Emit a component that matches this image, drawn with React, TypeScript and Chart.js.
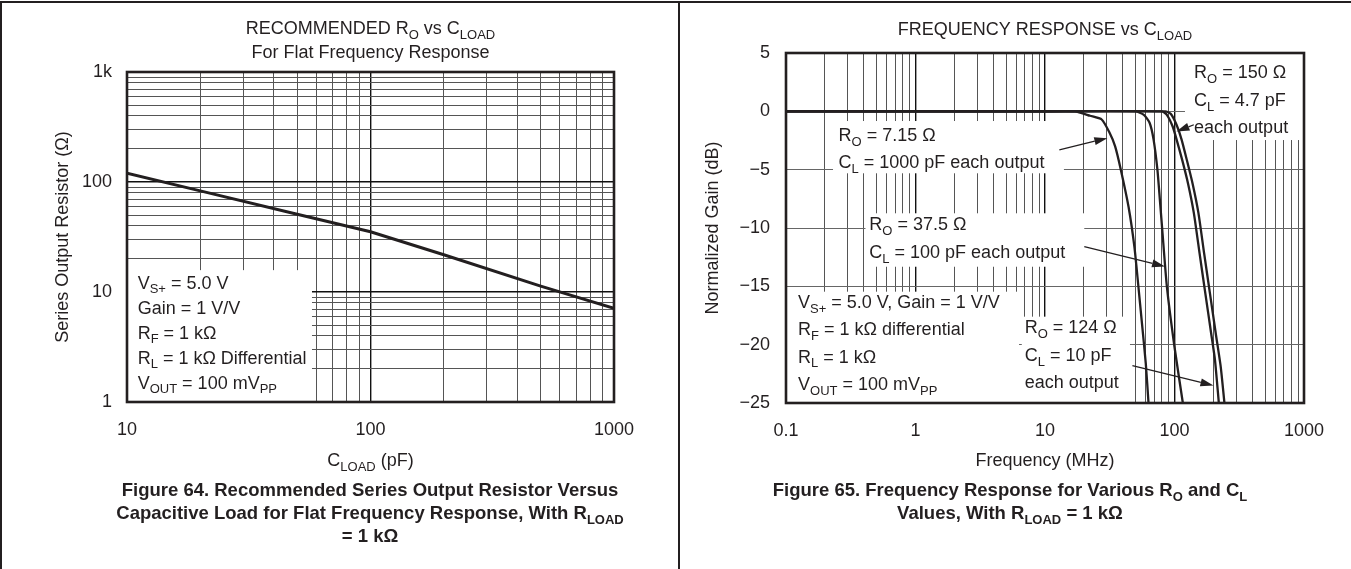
import React, { useEffect, useRef } from 'react';
import { Chart, registerables } from 'chart.js';

Chart.register(...registerables);

const FONT = "'Liberation Sans', Arial, Helvetica, sans-serif";
const INK = '#231f20';

// ---------- Figure 64 data ----------
const cloadPF = [10, 20, 50, 100, 200, 500, 1000];
const seriesROhm = [120, 83, 51, 35.3, 21.8, 11.3, 7.1];
const leftXTicks = [10, 100, 1000];
const leftXTickLabels = ['10', '100', '1000'];
const leftYTicks = [1, 10, 100, 1000];
const leftYTickLabels = ['1', '10', '100', '1k'];

// ---------- Figure 65 data ----------
const freqA = [0.1, 1, 10, 17, 22.3, 27.4, 31.4, 34.8, 38.5, 44.2, 49, 52.4, 56.1, 60, 63];
const gainA = [0, 0, 0, 0, -0.38, -0.7, -1.8, -3.0, -5.0, -8.2, -11.6, -14.8, -18.2, -21.6, -25];
const freqB = [0.1, 1, 10, 50, 58, 64.3, 68.9, 73.8, 77, 80.5, 87.3, 100, 116];
const gainB = [0, 0, 0, 0, -0.3, -1.0, -2.4, -5.0, -7.5, -10.2, -15, -20.2, -25];
const freqC = [0.1, 1, 10, 80, 87.3, 96.8, 103.7, 114.9, 127.3, 141, 156.3, 173, 191.7, 205.3, 220];
const gainC = [0, 0, 0, 0, -0.3, -1.3, -2.4, -4.2, -6.2, -8.7, -12.2, -15.6, -19.0, -21.3, -25];
const freqD = [0.1, 1, 10, 85, 93.5, 103.7, 113.3, 124.7, 138, 153, 169.5, 187.8, 208, 227.5, 243];
const gainD = [0, 0, 0, 0, -0.2, -1.15, -2.4, -4.2, -6.2, -8.7, -12.2, -15.6, -19.0, -21.9, -25];
const rightXTicks = [0.1, 1, 10, 100, 1000];
const rightXTickLabels = ['0.1', '1', '10', '100', '1000'];
const rightYTicks = [5, 0, -5, -10, -15, -20, -25];
const rightYTickLabels = ['5', '0', '\u22125', '\u221210', '\u221215', '\u221220', '\u221225'];

// ---------- helpers ----------
function logGrid(min: number, max: number): number[] {
  const out: number[] = [];
  const e0 = Math.round(Math.log10(min));
  const e1 = Math.round(Math.log10(max));
  for (let e = e0; e < e1; e++) {
    for (let m = 1; m < 10; m++) out.push(parseFloat((m * Math.pow(10, e)).toPrecision(6)));
  }
  out.push(max);
  return out;
}
const isDecade = (v: number) => Math.abs(Math.log10(v) - Math.round(Math.log10(v))) < 1e-6;
function labelFor(v: number, ticks: number[], labels: string[]): string {
  for (let i = 0; i < ticks.length; i++) {
    if (Math.abs(ticks[i] - v) <= Math.abs(ticks[i]) * 1e-6 + 1e-9) return labels[i];
  }
  return '';
}

type Seg = { t: string; sub?: boolean };
function parse(s: string): Seg[] {
  const out: Seg[] = [];
  const re = /_\{([^}]*)\}/g;
  let last = 0;
  let m: RegExpExecArray | null;
  while ((m = re.exec(s))) {
    if (m.index > last) out.push({ t: s.slice(last, m.index) });
    out.push({ t: m[1], sub: true });
    last = re.lastIndex;
  }
  if (last < s.length) out.push({ t: s.slice(last) });
  return out;
}

function drawRich(
  ctx: CanvasRenderingContext2D,
  text: string,
  x: number,
  y: number,
  size: number,
  opts: { align?: 'left' | 'center' | 'right'; bold?: boolean; rotate?: number } = {}
) {
  const segs = parse(text);
  const weight = opts.bold ? 'bold ' : '';
  const mainF = `${weight}${size}px ${FONT}`;
  const subF = `${weight}${Math.round(size * 0.72)}px ${FONT}`;
  ctx.save();
  ctx.fillStyle = INK;
  ctx.textBaseline = 'alphabetic';
  ctx.textAlign = 'left';
  let total = 0;
  const widths = segs.map((s) => {
    ctx.font = s.sub ? subF : mainF;
    const w = ctx.measureText(s.t).width;
    total += w;
    return w;
  });
  ctx.translate(x, y);
  if (opts.rotate) ctx.rotate(opts.rotate);
  let cx = opts.align === 'center' ? -total / 2 : opts.align === 'right' ? -total : 0;
  const base = size * 0.36;
  segs.forEach((s, i) => {
    ctx.font = s.sub ? subF : mainF;
    ctx.fillText(s.t, cx, s.sub ? base + size * 0.27 : base);
    cx += widths[i];
  });
  ctx.restore();
}

type Note = {
  box: [number, number, number, number]; // data coords x1,y1,x2,y2
  x: number; // data x of text start
  y: number; // data y of first line center
  dy: number; // line spacing px
  lines: string[];
};
type Arrow = { from: [number, number]; to: [number, number] };
type Deco = {
  notes: Note[];
  arrows: Arrow[];
  texts: { s: string; x: number; y: number; size: number; bold?: boolean; rotate?: boolean }[];
};

function decoPlugin(deco: Deco) {
  return {
    id: 'deco',
    beforeDatasetsDraw(chart: any) {
      const ctx: CanvasRenderingContext2D = chart.ctx;
      const xs = chart.scales.x;
      const ys = chart.scales.y;
      const a = chart.chartArea;
      ctx.save();
      ctx.beginPath();
      ctx.rect(a.left, a.top, a.right - a.left, a.bottom - a.top);
      ctx.clip();
      ctx.fillStyle = '#ffffff';
      deco.notes.forEach((n) => {
        const x1 = xs.getPixelForValue(n.box[0]);
        const x2 = xs.getPixelForValue(n.box[2]);
        const y1 = ys.getPixelForValue(n.box[1]);
        const y2 = ys.getPixelForValue(n.box[3]);
        ctx.fillRect(Math.min(x1, x2), Math.min(y1, y2), Math.abs(x2 - x1), Math.abs(y2 - y1));
      });
      ctx.restore();
      deco.notes.forEach((n) => {
        const tx = xs.getPixelForValue(n.x);
        const ty = ys.getPixelForValue(n.y);
        n.lines.forEach((l, i) => drawRich(ctx, l, tx, ty + i * n.dy, 18));
      });
    },
    afterDatasetsDraw(chart: any) {
      const ctx: CanvasRenderingContext2D = chart.ctx;
      const xs = chart.scales.x;
      const ys = chart.scales.y;
      const a = chart.chartArea;
      ctx.save();
      ctx.strokeStyle = INK;
      ctx.fillStyle = INK;
      deco.arrows.forEach((ar) => {
        const x1 = xs.getPixelForValue(ar.from[0]);
        const y1 = ys.getPixelForValue(ar.from[1]);
        const x2 = xs.getPixelForValue(ar.to[0]);
        const y2 = ys.getPixelForValue(ar.to[1]);
        const ang = Math.atan2(y2 - y1, x2 - x1);
        const hl = 13;
        const hw = 4;
        const bx = x2 - hl * Math.cos(ang);
        const by = y2 - hl * Math.sin(ang);
        ctx.lineWidth = 1.3;
        ctx.beginPath();
        ctx.moveTo(x1, y1);
        ctx.lineTo(bx, by);
        ctx.stroke();
        ctx.beginPath();
        ctx.moveTo(x2, y2);
        ctx.lineTo(bx + hw * Math.sin(ang), by - hw * Math.cos(ang));
        ctx.lineTo(bx - hw * Math.sin(ang), by + hw * Math.cos(ang));
        ctx.closePath();
        ctx.fill();
      });
      ctx.lineWidth = 2.6;
      ctx.strokeRect(a.left, a.top, a.right - a.left, a.bottom - a.top);
      ctx.restore();
      deco.texts.forEach((t) =>
        drawRich(ctx, t.s, t.x, t.y, t.size, {
          align: 'center',
          bold: t.bold,
          rotate: t.rotate ? -Math.PI / 2 : 0,
        })
      );
    },
  };
}

const gridStyle = {
  drawTicks: false,
  color: (c: any) => (c.tick && isDecade(c.tick.value) ? '#111111' : '#555555'),
  lineWidth: (c: any) => (c.tick && isDecade(c.tick.value) ? 1.4 : 1),
};
const tickFont = { family: FONT, size: 18 };

export default function App() {
  const leftRef = useRef<HTMLCanvasElement>(null);
  const rightRef = useRef<HTMLCanvasElement>(null);

  useEffect(() => {
    const leftDeco: Deco = {
      notes: [
        {
          box: [10, 1, 57.5, 15.8],
          x: 11.06,
          y: 12.3,
          dy: 25,
          lines: [
            'V_{S+} = 5.0 V',
            'Gain = 1 V/V',
            'R_{F} = 1 k\u03a9',
            'R_{L} = 1 k\u03a9 Differential',
            'V_{OUT} = 100 mV_{PP}',
          ],
        },
      ],
      arrows: [],
      texts: [
        { s: 'RECOMMENDED R_{O} vs C_{LOAD}', x: 370.5, y: 28, size: 18 },
        { s: 'For Flat Frequency Response', x: 370.5, y: 52, size: 18 },
        { s: 'Series Output Resistor (\u03a9)', x: 62, y: 237, size: 18, rotate: true },
        { s: 'C_{LOAD} (pF)', x: 370.5, y: 460, size: 18 },
        { s: 'Figure 64. Recommended Series Output Resistor Versus', x: 370, y: 489, size: 18.5, bold: true },
        { s: 'Capacitive Load for Flat Frequency Response, With R_{LOAD}', x: 370, y: 512, size: 18.5, bold: true },
        { s: '= 1 k\u03a9', x: 370, y: 535, size: 18.5, bold: true },
      ],
    };

    const left = new Chart(leftRef.current as HTMLCanvasElement, {
      type: 'line',
      data: {
        datasets: [
          {
            data: cloadPF.map((x, i) => ({ x, y: seriesROhm[i] })),
            borderColor: INK,
            borderWidth: 3,
            pointRadius: 0,
            tension: 0,
            fill: false,
          },
        ],
      },
      options: {
        responsive: false,
        animation: false,
        events: [],
        layout: { padding: { left: 67, right: 737, top: 72, bottom: 107 } },
        plugins: { legend: { display: false }, tooltip: { enabled: false } },
        scales: {
          x: {
            type: 'logarithmic',
            min: 10,
            max: 1000,
            afterBuildTicks: (s: any) => {
              s.ticks = logGrid(10, 1000).map((v) => ({ value: v }));
            },
            afterFit: (s: any) => {
              s.height = 60;
            },
            grid: gridStyle,
            border: { display: false },
            ticks: {
              autoSkip: false,
              maxRotation: 0,
              padding: 17,
              font: tickFont,
              color: INK,
              callback: (v: any) => labelFor(Number(v), leftXTicks, leftXTickLabels),
            },
          },
          y: {
            type: 'logarithmic',
            min: 1,
            max: 1000,
            afterBuildTicks: (s: any) => {
              s.ticks = logGrid(1, 1000).map((v) => ({ value: v }));
            },
            afterFit: (s: any) => {
              s.width = 60;
            },
            grid: gridStyle,
            border: { display: false },
            ticks: {
              autoSkip: false,
              padding: 15,
              font: tickFont,
              color: INK,
              callback: (v: any) => labelFor(Number(v), leftYTicks, leftYTickLabels),
            },
          },
        },
      } as any,
      plugins: [decoPlugin(leftDeco)],
    });

    const rightDeco: Deco = {
      notes: [
        { box: [120.5, 5, 1000, -2.46], x: 141.6, y: 3.39, dy: 27.5, lines: ['R_{O} = 150 \u03a9', 'C_{L} = 4.7 pF', 'each output'] },
        { box: [0.2307, -0.83, 14.0, -5.31], x: 0.2546, y: -2.03, dy: 27, lines: ['R_{O} = 7.15 \u03a9', 'C_{L} = 1000 pF each output'] },
        { box: [0.411, -8.74, 20.1, -13.32], x: 0.44, y: -9.6, dy: 28, lines: ['R_{O} = 37.5 \u03a9', 'C_{L} = 100 pF each output'] },
        {
          box: [0.1, -15.46, 6.3, -25],
          x: 0.1238,
          y: -16.32,
          dy: 27.2,
          lines: ['V_{S+} = 5.0 V, Gain = 1 V/V', 'R_{F} = 1 k\u03a9 differential', 'R_{L} = 1 k\u03a9', 'V_{OUT} = 100 mV_{PP}'],
        },
        { box: [6.62, -17.6, 45.3, -25], x: 6.97, y: -18.46, dy: 27.5, lines: ['R_{O} = 124 \u03a9', 'C_{L} = 10 pF', 'each output'] },
      ],
      arrows: [
        { from: [12.9, -3.3], to: [30.3, -2.3] },
        { from: [20.1, -11.6], to: [84.5, -13.3] },
        { from: [47.3, -21.8], to: [200, -23.5] },
        { from: [141, -1.15], to: [103.5, -1.73] },
      ],
      texts: [
        { s: 'FREQUENCY RESPONSE vs C_{LOAD}', x: 1045, y: 29, size: 18 },
        { s: 'Normalized Gain (dB)', x: 712, y: 228, size: 18, rotate: true },
        { s: 'Frequency (MHz)', x: 1045, y: 460, size: 18 },
        { s: 'Figure 65. Frequency Response for Various R_{O} and C_{L}', x: 1010, y: 489, size: 18.5, bold: true },
        { s: 'Values, With R_{LOAD} = 1 k\u03a9', x: 1010, y: 512, size: 18.5, bold: true },
      ],
    };

    const mk = (f: number[], g: number[]) => ({
      data: f.map((x, i) => ({ x, y: g[i] })),
      borderColor: INK,
      borderWidth: 2.3,
      pointRadius: 0,
      tension: 0.2,
      fill: false,
    });

    const right = new Chart(rightRef.current as HTMLCanvasElement, {
      type: 'line',
      data: { datasets: [mk(freqA, gainA), mk(freqB, gainB), mk(freqC, gainC), mk(freqD, gainD)] },
      options: {
        responsive: false,
        animation: false,
        events: [],
        layout: { padding: { left: 726, right: 47, top: 53, bottom: 106 } },
        plugins: { legend: { display: false }, tooltip: { enabled: false } },
        scales: {
          x: {
            type: 'logarithmic',
            min: 0.1,
            max: 1000,
            afterBuildTicks: (s: any) => {
              s.ticks = logGrid(0.1, 1000).map((v) => ({ value: v }));
            },
            afterFit: (s: any) => {
              s.height = 60;
            },
            grid: gridStyle,
            border: { display: false },
            ticks: {
              autoSkip: false,
              maxRotation: 0,
              padding: 17,
              font: tickFont,
              color: INK,
              callback: (v: any) => labelFor(Number(v), rightXTicks, rightXTickLabels),
            },
          },
          y: {
            type: 'linear',
            min: -25,
            max: 5,
            afterBuildTicks: (s: any) => {
              s.ticks = rightYTicks.map((v) => ({ value: v }));
            },
            afterFit: (s: any) => {
              s.width = 60;
            },
            grid: { drawTicks: false, color: '#666666', lineWidth: 1 },
            border: { display: false },
            ticks: {
              autoSkip: false,
              padding: 16,
              font: tickFont,
              color: INK,
              callback: (v: any) => labelFor(Number(v), rightYTicks, rightYTickLabels),
            },
          },
        },
      } as any,
      plugins: [decoPlugin(rightDeco)],
    });

    return () => {
      left.destroy();
      right.destroy();
    };
  }, []);

  const abs: React.CSSProperties = { position: 'absolute', left: 0, top: 0 };
  return (
    <div style={{ position: 'absolute', left: 0, top: 0, width: 1351, height: 569, background: '#fff', overflow: 'hidden' }}>
      <div style={{ position: 'absolute', left: 0, top: 1, width: 1351, height: 2, background: INK }} />
      <div style={{ position: 'absolute', left: 0, top: 1, width: 2, height: 568, background: INK }} />
      <div style={{ position: 'absolute', left: 678, top: 1, width: 1.5, height: 568, background: INK }} />
      <canvas ref={leftRef} width={1351} height={569} style={{ ...abs, width: 1351, height: 569 }} />
      <canvas ref={rightRef} width={1351} height={569} style={{ ...abs, width: 1351, height: 569 }} />
    </div>
  );
}
